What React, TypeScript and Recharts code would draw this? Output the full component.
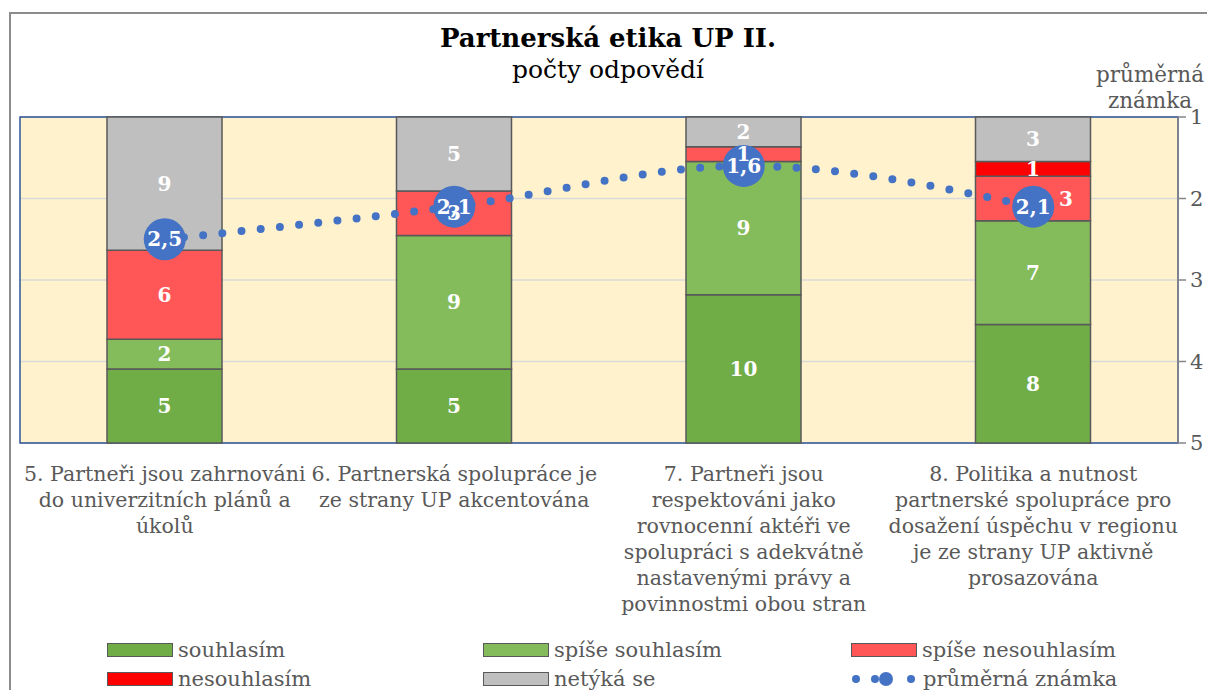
import React from 'react';
import {
  ComposedChart,
  Bar,
  Line,
  XAxis,
  YAxis,
  CartesianGrid,
  LabelList,
  ReferenceArea,
} from 'recharts';

const categories = [
  '5. Partneři jsou zahrnováni\ndo univerzitních plánů a\núkolů',
  '6. Partnerská spolupráce je\nze strany UP akcentována',
  '7. Partneři jsou\nrespektováni jako\nrovnocenní aktéři ve\nspolupráci s adekvátně\nnastavenými právy a\npovinnostmi obou stran',
  '8. Politika a nutnost\npartnerské spolupráce pro\ndosažení úspěchu v regionu\nje ze strany UP aktivně\nprosazována',
];
const souhlasim = [5, 5, 10, 8];
const spiseSouhlasim = [2, 9, 9, 7];
const spiseNesouhlasim = [6, 3, 1, 3];
const nesouhlasim = [0, 0, 0, 1];
const netykaSe = [9, 5, 2, 3];
const prumernaZnamka = [2.5, 2.1, 1.6, 2.1];
const znamkaTicks = [1, 2, 3, 4, 5];

const FONT = '"DejaVu Serif", Georgia, serif';
const GREY_TEXT = '#595959';
const BLUE = '#4472C4';

const series = [
  { key: 'souhlasim', name: 'souhlasím', color: '#70AD47' },
  { key: 'spiseSouhlasim', name: 'spíše souhlasím', color: '#84BB5B' },
  { key: 'spiseNesouhlasim', name: 'spíše nesouhlasím', color: '#FF5757' },
  { key: 'nesouhlasim', name: 'nesouhlasím', color: '#FF0000' },
  { key: 'netykaSe', name: 'netýká se', color: '#BFBFBF' },
];

const data = categories.map((cat, i) => ({
  cat,
  souhlasim: souhlasim[i],
  spiseSouhlasim: spiseSouhlasim[i],
  spiseNesouhlasim: spiseNesouhlasim[i],
  nesouhlasim: nesouhlasim[i],
  netykaSe: netykaSe[i],
  znamka: prumernaZnamka[i],
}));

const barLabel = (key: string) => (props: any) => {
  const { x, y, width, height, value, index } = props;
  if (!value) return null;
  // excel moved this one out from under the bubble
  const dx = key === 'spiseNesouhlasim' && index === 3 ? 33 : 0;
  return (
    <text
      x={x + width / 2 + dx}
      y={y + height / 2}
      fill="#fff"
      fontSize={20}
      fontWeight="bold"
      fontFamily={FONT}
      textAnchor="middle"
      dominantBaseline="central"
    >
      {value}
    </text>
  );
};

const CatTick = (props: any) => {
  const { x, y, payload } = props;
  const lines = String(payload.value).split('\n');
  return (
    <text x={x} y={y + 38} fill={GREY_TEXT} fontSize={20.5} fontFamily={FONT} textAnchor="middle">
      {lines.map((l, i) => (
        <tspan key={i} x={x} dy={i === 0 ? 0 : 26}>
          {l}
        </tspan>
      ))}
    </text>
  );
};

const BigDot = (props: any) => {
  const { cx, cy, index } = props;
  return <circle key={index} cx={cx} cy={cy} r={21} fill={BLUE} />;
};

const dotLabel = (props: any) => {
  const { x, y, value } = props;
  return (
    <text
      x={x}
      y={y}
      fill="#fff"
      fontSize={20}
      fontWeight="bold"
      fontFamily={FONT}
      textAnchor="middle"
      dominantBaseline="central"
    >
      {String(value).replace('.', ',')}
    </text>
  );
};

function LegendBox() {
  const cols = [99, 475, 843];
  const rows = [634, 663];
  const items = [
    ...series.map((s) => ({ name: s.name, color: s.color })),
    { name: 'průměrná známka', color: '' },
  ];
  return (
    <>
      {items.map((it, i) => {
        const left = cols[i % 3];
        const top = rows[Math.floor(i / 3)];
        return (
          <div key={it.name} style={{ position: 'absolute', left, top, height: 16, display: 'flex', alignItems: 'center' }}>
            {it.color ? (
              <div style={{ width: 64, height: 12, background: it.color, border: '1.5px solid #595959' }} />
            ) : (
              <svg width={67} height={16}>
                <circle cx={5} cy={8} r={4} fill={BLUE} />
                <circle cx={24} cy={8} r={4} fill={BLUE} />
                <circle cx={35} cy={8} r={7} fill={BLUE} />
                <circle cx={60} cy={8} r={4} fill={BLUE} />
              </svg>
            )}
            <span style={{ marginLeft: 5, fontFamily: FONT, fontSize: 21, color: GREY_TEXT, whiteSpace: 'nowrap' }}>
              {it.name}
            </span>
          </div>
        );
      })}
    </>
  );
}

export default function App() {
  return (
    <div style={{ position: 'relative', width: 1207, height: 682, overflow: 'hidden', background: '#fff' }}>
      <div
        style={{
          position: 'absolute',
          left: 1,
          top: 4,
          width: 1300,
          height: 800,
          border: '2px solid #8C8C8C',
          boxSizing: 'border-box',
        }}
      />
      <div style={{ position: 'absolute', left: 0, width: 1200, top: 14, textAlign: 'center', fontFamily: FONT }}>
        <div style={{ fontSize: 26, fontWeight: 'bold', lineHeight: '32px', color: '#000' }}>Partnerská etika UP II.</div>
        <div style={{ fontSize: 25, lineHeight: '32px', color: '#000' }}>počty odpovědí</div>
      </div>
      <div
        style={{
          position: 'absolute',
          left: 1080,
          width: 124,
          top: 54,
          textAlign: 'center',
          fontFamily: FONT,
          fontSize: 21.5,
          lineHeight: '26px',
          color: GREY_TEXT,
        }}
      >
        průměrná
        <br />
        známka
      </div>
      <ComposedChart
        width={1207}
        height={682}
        data={data}
        margin={{ top: 109, right: 0, bottom: 7, left: 12 }}
        barCategoryGap={0}
        style={{ position: 'absolute', left: 0, top: 0 }}
      >
        <CartesianGrid
          yAxisId="right"
          vertical={false}
          fill="#FFF2CC"
          stroke="#D9D9D9"
          strokeWidth={1.5}
        />
        <XAxis
          dataKey="cat"
          axisLine={false}
          tickLine={false}
          tickSize={0}
          tickMargin={0}
          height={240}
          interval={0}
          tick={<CatTick />}
        />
        <YAxis yAxisId="left" domain={[0, 22]} hide />
        <YAxis
          yAxisId="right"
          orientation="right"
          domain={[1, 5]}
          reversed
          ticks={znamkaTicks}
          width={37}
          axisLine={{ stroke: '#868686', strokeWidth: 1.5 }}
          tickLine={{ stroke: '#868686', strokeWidth: 1.5 }}
          tickSize={8}
          tickMargin={4}
          tick={{ fill: GREY_TEXT, fontSize: 21, fontFamily: FONT }}
        />
        {series.map((s) => (
          <Bar
            key={s.key}
            yAxisId="left"
            dataKey={s.key}
            name={s.name}
            stackId="a"
            fill={s.color}
            stroke="#595959"
            strokeWidth={1.5}
            barSize={115}
            isAnimationActive={false}
          >
            <LabelList dataKey={s.key} content={barLabel(s.key)} />
          </Bar>
        ))}
        <ReferenceArea
          yAxisId="left"
          y1={0}
          y2={22}
          fill="none"
          stroke="#2F5597"
          strokeWidth={1.5}
          ifOverflow="visible"
        />
        <Line
          yAxisId="right"
          dataKey="znamka"
          name="průměrná známka"
          type="monotone"
          stroke={BLUE}
          strokeWidth={8}
          strokeDasharray="0 19.3"
          strokeLinecap="round"
          dot={<BigDot />}
          activeDot={false}
          isAnimationActive={false}
        >
          <LabelList dataKey="znamka" content={dotLabel} />
        </Line>
      </ComposedChart>
      <LegendBox />
    </div>
  );
}
